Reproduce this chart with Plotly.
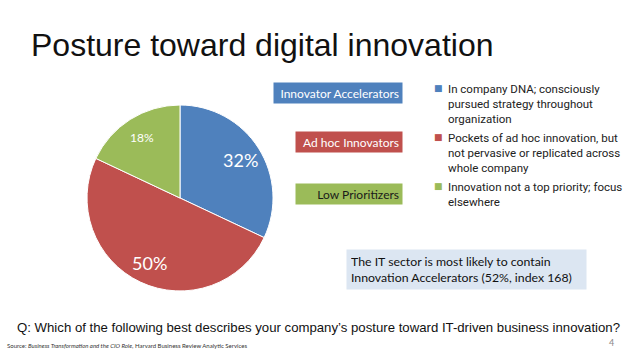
import math
import plotly.graph_objects as go

categories = ["Innovator Accelerators", "Ad hoc Innovators", "Low Prioritizers"]
values = [32, 50, 18]
descriptions = [
    "In company DNA; consciously<br>pursued strategy throughout<br>organization",
    "Pockets of ad hoc innovation, but<br>not pervasive or replicated across<br>whole company",
    "Innovation not a top priority; focus<br>elsewhere",
]
slice_colors = ["#4F81BD", "#C0504D", "#9BBB59"]
box_text_colors = ["white", "white", "#1a1a1a"]
label_sizes = [18, 18, 12]

W, H = 635, 355
def px(x): return x / W
def py(y): return 1 - y / H

# pie geometry (pixels)
CX, CY, R = 180, 198, 93

fig = go.Figure()
fig.add_trace(go.Pie(
    labels=categories,
    values=values,
    sort=False,
    direction="clockwise",
    rotation=0,
    marker=dict(colors=slice_colors, line=dict(color="white", width=1)),
    textinfo="none",
    domain=dict(x=[px(CX - R), px(CX + R)], y=[py(CY + R), py(CY - R)]),
    hoverinfo="skip",
    showlegend=False,
))

annotations = []
# percentage labels placed at each slice's mid-angle, derived from the values
total = sum(values)
cum = 0
for v, fs in zip(values, label_sizes):
    mid = (cum + v / 2) / total * 2 * math.pi
    cum += v
    rr = 0.77 * R
    x = CX + rr * math.sin(mid)
    y = CY - rr * math.cos(mid)
    annotations.append(dict(
        text=f"{v}%", x=px(x), y=py(y), xref="paper", yref="paper",
        xanchor="center", yanchor="middle", showarrow=False,
        font=dict(family="Lato, sans-serif", size=fs, color="white"),
    ))

box_tops = [82, 131, 183]
box_widths = [128, 106, 106]
for cat, col, tc, top, w in zip(categories, slice_colors, box_text_colors, box_tops, box_widths):
    annotations.append(dict(
        text=cat, x=px(403), y=py(top), xref="paper", yref="paper",
        xanchor="right", yanchor="top", showarrow=False,
        bgcolor=col, width=w - 6, height=20 - 6, borderpad=3, align="right",
        font=dict(family="Lato, sans-serif", size=12, color=tc),
    ))

# legend: small square swatch + wrapped description
legend_first_line = [88, 137, 186]
for desc, col, yl in zip(descriptions, slice_colors, legend_first_line):
    annotations.append(dict(
        text="\u25A0", x=px(438), y=py(yl), xref="paper", yref="paper",
        xanchor="center", yanchor="middle", showarrow=False,
        font=dict(family="DejaVu Sans, sans-serif", size=9, color=col),
    ))
    annotations.append(dict(
        text=desc, x=px(446), y=py(yl - 8), xref="paper", yref="paper",
        xanchor="left", yanchor="top", showarrow=False, align="left",
        font=dict(family="Roboto, sans-serif", size=11.5, color="#222222"),
    ))

annotations += [
    dict(text="Posture toward digital innovation", x=px(29), y=py(45), xref="paper", yref="paper",
         xanchor="left", yanchor="middle", showarrow=False,
         font=dict(family="Liberation Sans, Arial, sans-serif", size=32, color="#111111")),
    dict(text="The IT sector is most likely to contain<br>Innovation Accelerators (52%, index 168)",
         x=px(346), y=py(249), xref="paper", yref="paper", xanchor="left", yanchor="top",
         showarrow=False, bgcolor="#DCE6F2", borderpad=4, width=231, align="left",
         font=dict(family="Lato, sans-serif", size=12.3, color="#111111")),
    dict(text="Q: Which of the following best describes your company\u2019s posture toward IT-driven business innovation?",
         x=px(15), y=py(327), xref="paper", yref="paper", xanchor="left", yanchor="middle",
         showarrow=False, font=dict(family="Liberation Sans, Arial, sans-serif", size=13.2, color="#111111")),
    dict(text="Source: <i>Business Transformation and the CIO Role</i>, Harvard Business Review Analytic Services",
         x=px(5), y=py(345), xref="paper", yref="paper", xanchor="left", yanchor="middle",
         showarrow=False, font=dict(family="Lato, sans-serif", size=6, color="#333333")),
    dict(text="4", x=px(611), y=py(342), xref="paper", yref="paper", xanchor="center", yanchor="middle",
         showarrow=False, font=dict(family="Lato, sans-serif", size=9, color="#888888")),
]

fig.update_layout(
    width=W, height=H,
    margin=dict(l=0, r=0, t=0, b=0, autoexpand=False),
    paper_bgcolor="white", plot_bgcolor="white",
    annotations=annotations,
    showlegend=False,
)

fig.write_html("out.html")
